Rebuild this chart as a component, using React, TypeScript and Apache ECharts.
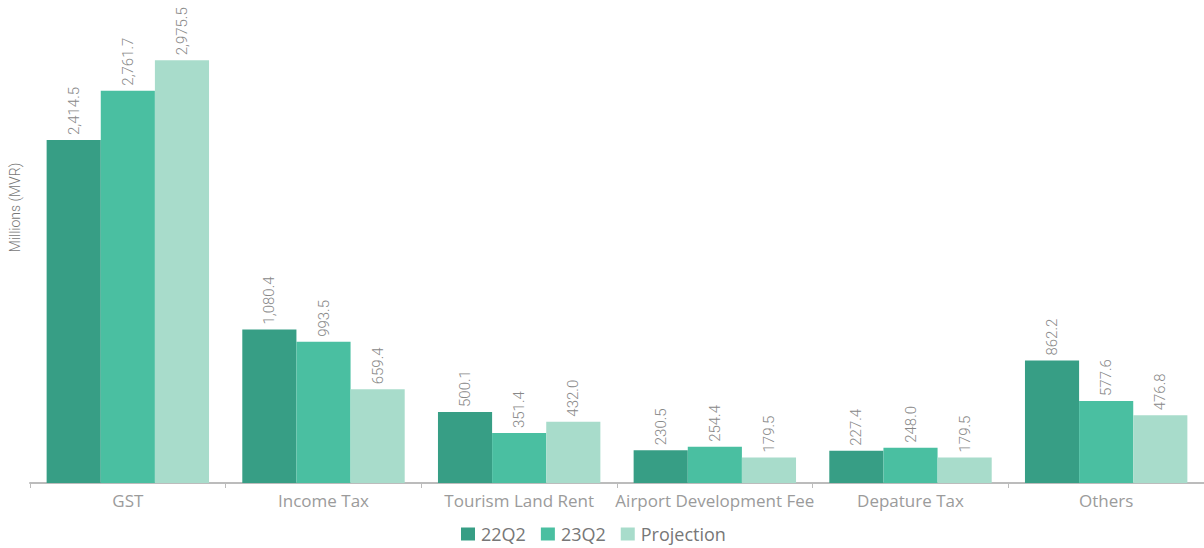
import React, { useEffect, useRef } from "react";
import * as echarts from "echarts";

const categories = ["GST", "Income Tax", "Tourism Land Rent", "Airport Development Fee", "Depature Tax", "Others"];
const seriesNames = ["22Q2", "23Q2", "Projection"];
const values22Q2 = [2414.5, 1080.4, 500.1, 230.5, 227.4, 862.2];
const values23Q2 = [2761.7, 993.5, 351.4, 254.4, 248.0, 577.6];
const valuesProjection = [2975.5, 659.4, 432.0, 179.5, 179.5, 476.8];
const colors = ["#379e85", "#4abfa1", "#a8dccb"];

const fmt = (v: number) =>
  v.toLocaleString("en-US", { minimumFractionDigits: 1, maximumFractionDigits: 1 });

export default function App() {
  const ref = useRef<HTMLDivElement>(null);
  useEffect(() => {
    document.body.style.margin = "0";
    const chart = echarts.init(ref.current!, null, { renderer: "svg" });
    const font = "Roboto, sans-serif";
    const data = [values22Q2, values23Q2, valuesProjection];
    chart.setOption({
      animation: false,
      color: colors,
      grid: { left: 28, right: 0, top: 0, height: 483 },
      legend: {
        bottom: 0,
        left: 456,
        icon: "rect",
        itemWidth: 14,
        itemHeight: 13,
        itemGap: 15,
        textStyle: { color: "#777", fontSize: 18, fontFamily: "'Open Sans', sans-serif", padding: [0, 0, 0, 1] },
        data: seriesNames,
      },
      xAxis: {
        type: "category",
        data: categories,
        axisLine: { lineStyle: { color: "#bcbcbc", width: 2 } },
        axisTick: { show: true, length: 5, lineStyle: { color: "#bcbcbc" } },
        axisLabel: {
          color: "#9b9b9b",
          fontSize: 17,
          margin: 9,
          interval: 0,
          fontFamily: "'Open Sans', sans-serif",
        },
      },
      yAxis: {
        type: "value",
        min: 0,
        max: 3400,
        name: "Millions (MVR)",
        nameLocation: "middle",
        nameRotate: 90,
        nameGap: 8,
        nameTextStyle: {
          color: "#777",
          fontSize: 14,
          fontFamily: font,
          fontWeight: 300,
          padding: [0, 0, 0, 68],
        },
        axisLine: { show: false },
        axisTick: { show: false },
        axisLabel: { show: false },
        splitLine: { show: false },
      },
      series: seriesNames.map((name, i) => ({
        name,
        type: "bar",
        data: data[i],
        barGap: "0%",
        barCategoryGap: "17%",
        itemStyle: { color: colors[i] },
        label: {
          show: true,
          position: "top",
          rotate: 90,
          align: "left",
          verticalAlign: "middle",
          distance: 5,
          color: "#888",
          fontSize: 15,
          fontWeight: 300,
          fontFamily: font,
          formatter: (p: any) => fmt(p.value),
        },
      })),
    });
    return () => chart.dispose();
  }, []);
  return <div ref={ref} style={{ width: 1204, height: 548 }} />;
}
